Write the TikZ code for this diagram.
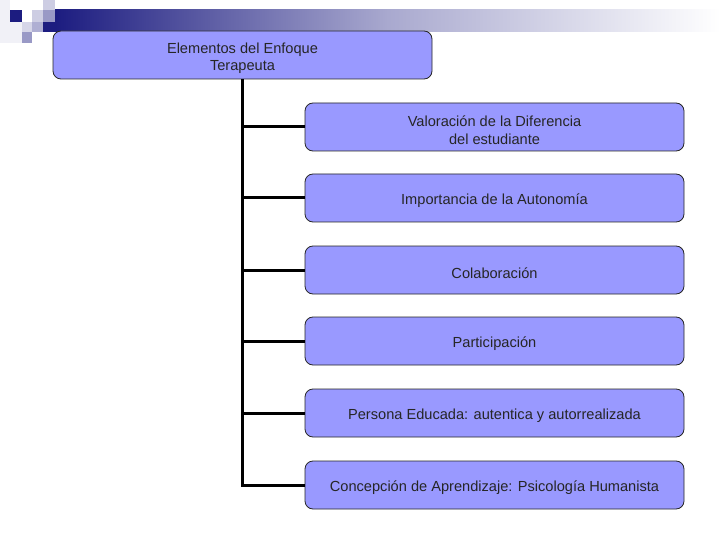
\documentclass[tikz,border=0pt]{standalone}
\usepackage{fontspec}
\setmainfont{Liberation Sans}
\definecolor{boxfill}{HTML}{9999FF}
\definecolor{navy}{HTML}{1C1C80}
\tikzset{
  x=1pt,y=-1pt,
  boxtext/.style={align=center,font=\fontsize{14.6}{17.5}\selectfont,text=black!85,inner sep=0pt,yshift=-3pt},
  topbox/.style={draw=black!85,line width=0.8pt,fill=boxfill,rounded corners=8pt,minimum width=379pt,minimum height=48pt,inner sep=0pt,
    label={[boxtext]center:{#1}}},
  itembox/.style={topbox=#1},
  trunk/.style={line width=3pt,black},
}
\begin{document}
\begin{tikzpicture}
\useasboundingbox (0,0) rectangle (720,540);
\fill[white] (0,0) rectangle (720,540);
% header gradient bar
\shade[left color=navy,right color=white,middle color=navy!38!white] (55,10) rectangle (720,32);
% decorative squares
\fill[navy!6] (0,0) rectangle (10,43);
\fill[navy!6] (10,22) rectangle (22,43);
\fill[navy] (10,10) rectangle (22,22);
\fill[navy!22] (43,0) rectangle (55,10);
\fill[navy!22] (32,10) rectangle (43,22);
\fill[navy!45] (43,10) rectangle (55,22);
\fill[navy!18] (22,22) rectangle (32,32);
\fill[navy!35] (32,22) rectangle (43,32);
\fill[navy] (43,22) rectangle (55,32);
\fill[navy!45] (22,32) rectangle (32,43);
% nodes
\node[topbox={Elementos del Enfoque\\Terapeuta}] (top) at (242.5,55) {};
\node[itembox={Valoración de la Diferencia\\del estudiante}] (b1) at (494.5,127) {};
\node[itembox={Importancia de la Autonomía}] (b2) at (494.5,198) {};
\node[itembox={Colaboración}] (b3) at (494.5,270) {};
\node[itembox={Participación}] (b4) at (494.5,341) {};
\node[itembox={Persona Educada: autentica y autorrealizada}] (b5) at (494.5,413) {};
\node[itembox={Concepción de Aprendizaje: Psicología Humanista}] (b6) at (494.5,485) {};
% connectors
\coordinate (j6) at (top.south |- b6.west);
\draw[trunk] (top.south) -- (j6) -- (b6.west);
\foreach \b in {b1,b2,b3,b4,b5}{
  \draw[trunk] (top.south |- \b.west) -- (\b.west);
}
\end{tikzpicture}
\end{document}
